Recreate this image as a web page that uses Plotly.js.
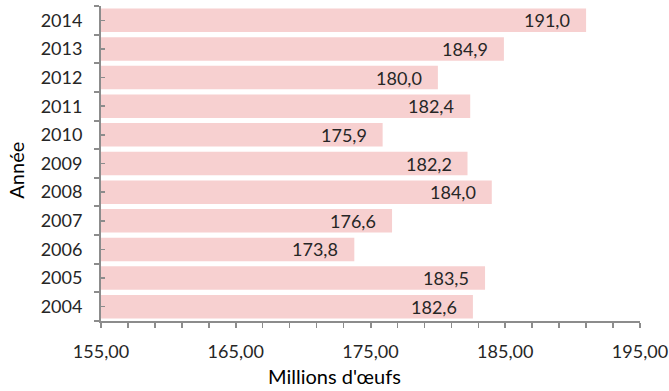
<!DOCTYPE html>
<html><head><meta charset="utf-8">
<script src="https://cdn.plot.ly/plotly-3.0.1.min.js"></script>
<style>html,body{margin:0;padding:0;background:#fff;}#chart{width:669px;height:391px;}</style>
</head><body><div id="chart"></div>
<script>
var years = ['2004','2005','2006','2007','2008','2009','2010','2011','2012','2013','2014'];
var values = [182.6, 183.5, 173.8, 176.6, 184.0, 182.2, 175.9, 182.4, 180.0, 184.9, 191.0];
var xTickVals = [155, 165, 175, 185, 195];
var xTitle = "Millions d'œufs";
var yTitle = "Année";

var FONT = 'Lato, "Open Sans", sans-serif';
var barColor = '#f7d0d0';
var axisColor = '#8c8c8c';
var textColor = '#262626';

var trace = {
  type: 'bar', orientation: 'h', x: values, y: years,
  marker: {color: barColor}, hoverinfo: 'skip'
};
var ghost = {
  type: 'bar', orientation: 'h', x: values, y: years, yaxis: 'y2',
  marker: {color: 'rgba(0,0,0,0)'}, hoverinfo: 'skip', showlegend: false
};

// category axis: annotation y uses the category index (year strings look numeric)
var annotations = values.map(function(v, i){
  return {x: v, y: i, xref: 'x', yref: 'y', text: v.toFixed(1).replace('.', ','),
    showarrow: false, xanchor: 'right', yanchor: 'middle', xshift: -14,
    font: {family: FONT, size: 18, color: textColor}};
});
annotations.push({x: 0.434, y: -0.176, xref: 'paper', yref: 'paper', text: xTitle, showarrow: false,
  xanchor: 'center', yanchor: 'middle', font: {family: FONT, size: 20, color: '#000'}});
annotations.push({x: -0.158, y: 0.48, xref: 'paper', yref: 'paper', text: yTitle, showarrow: false,
  textangle: -90, xanchor: 'center', yanchor: 'middle', font: {family: FONT, size: 20, color: '#000'}});

var catRange = [-0.5, years.length - 0.5];

var layout = {
  width: 669, height: 391,
  margin: {l: 101, r: 29, t: 6, b: 70},
  paper_bgcolor: '#fff', plot_bgcolor: '#fff',
  separators: ', ',
  bargap: 0.18,
  showlegend: false,
  font: {family: FONT, size: 18, color: textColor},
  xaxis: {
    range: [155, 195], tickvals: xTickVals, tickformat: '.2f',
    showgrid: false, zeroline: false,
    showline: true, linecolor: axisColor, linewidth: 2,
    ticks: 'outside', ticklen: 5, tickwidth: 2, tickcolor: axisColor,
    minor: {dtick: 2, tick0: 155, ticks: 'outside', ticklen: 5, tickwidth: 1.5, tickcolor: axisColor, showgrid: false},
    tickfont: {family: FONT, size: 18, color: textColor},
    ticklabelstandoff: 8
  },
  yaxis: {
    type: 'category', categoryorder: 'array', categoryarray: years, range: catRange,
    showgrid: false, zeroline: false,
    showline: true, linecolor: axisColor, linewidth: 2,
    ticks: 'outside', tickson: 'boundaries', ticklen: 5, tickwidth: 2, tickcolor: axisColor,
    tickfont: {family: FONT, size: 18, color: textColor},
    ticklabelstandoff: 13
  },
  yaxis2: {
    type: 'category', categoryorder: 'array', categoryarray: years, range: catRange,
    overlaying: 'y', side: 'left',
    showgrid: false, zeroline: false, showline: false,
    ticks: 'inside', ticklen: 4, tickwidth: 1.5, tickcolor: axisColor,
    showticklabels: false
  },
  annotations: annotations
};

Plotly.newPlot('chart', [trace, ghost], layout, {staticPlot: true, displayModeBar: false});
</script></body></html>
